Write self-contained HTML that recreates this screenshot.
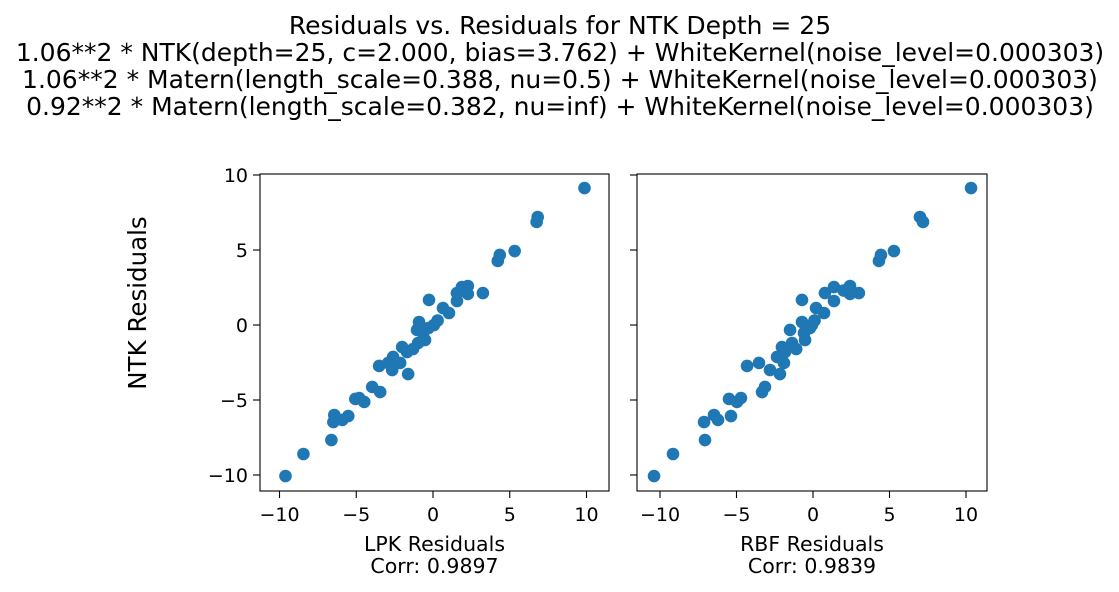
<!DOCTYPE html>
<html><head><meta charset="utf-8"><style>
body{margin:0;background:#fff;}
svg{display:block;font-family:"DejaVu Sans","Liberation Sans",sans-serif;}
</style></head><body>
<svg id="chart" width="1119" height="592" viewBox="0 0 1119 592">
<g font-size="25" text-anchor="middle" fill="#000">
<text x="560" y="34">Residuals vs. Residuals for NTK Depth = 25</text>
<text x="560" y="61">1.06**2 * NTK(depth=25, c=2.000, bias=3.762) + WhiteKernel(noise_level=0.000303)</text>
<text x="560" y="88">1.06**2 * Matern(length_scale=0.388, nu=0.5) + WhiteKernel(noise_level=0.000303)</text>
<text x="560" y="115">0.92**2 * Matern(length_scale=0.382, nu=inf) + WhiteKernel(noise_level=0.000303)</text>
</g>
<text x="0" y="0" font-size="24.5" text-anchor="middle" transform="translate(146,303) rotate(-90)">NTK Residuals</text>
<g id="plots"></g>
</svg>
<script>
const ntk = [9.13,7.2,6.87,4.27,4.67,4.93,2.13,2.53,1.6,2.6,2.07,2.13,1.67,1.13,0.8,0.2,0,-0.33,-0.53,-1.0,-1.2,-1.47,-1.8,-2.13,-2.53,-2.73,-2.53,-3.0,-3.27,-4.13,-4.47,-4.93,-4.87,-5.13,-6.0,-6.47,-6.33,-6.07,-7.67,-8.6,-10.07,0.3,-0.2,2.3,-1.6];
const lpk = [9.87,6.82,6.75,4.22,4.35,5.32,1.56,1.88,1.56,2.27,2.27,3.25,-0.26,0.65,1.04,-0.91,0.06,-1.04,-0.65,-0.52,-0.97,-2.01,-1.69,-2.6,-2.14,-3.51,-2.92,-2.66,-1.62,-3.96,-3.44,-5.06,-4.81,-4.48,-6.43,-6.49,-5.91,-5.52,-6.62,-8.44,-9.61,0.3,-0.3,2.0,-1.3];
const rbf = [10.33,6.99,7.19,4.31,4.44,5.29,0.78,1.37,1.37,2.42,2.42,3.0,-0.72,0.2,0.72,-0.72,-0.07,-1.5,-0.59,-0.52,-1.37,-2.03,-1.83,-2.35,-1.9,-4.31,-3.53,-2.81,-2.16,-3.14,-3.33,-5.49,-4.71,-4.97,-6.47,-7.12,-6.21,-5.36,-7.06,-9.15,-10.39,0.1,-0.2,2.0,-1.1];
const xTicks = [-10,-5,0,5,10];
const yTicks = [-10,-5,0,5,10];
const corrLabels = ["Corr: 0.9897","Corr: 0.9839"];
const xNames = ["LPK Residuals","RBF Residuals"];

const NS="http://www.w3.org/2000/svg";
const plotsRoot=document.getElementById('plots');
function mk(tag,attrs,parent){const e=document.createElementNS(NS,tag);for(const k in attrs)e.setAttribute(k,attrs[k]);parent.appendChild(e);return e;}
const axTop=174,axBot=491;
const yScale=v=>325-v*15;
const panels=[{x0:260,x1:609,zero:433,k:15.35,xs:lpk,name:'lpk'},{x0:637,x1:987,zero:813,k:15.3,xs:rbf,name:'rbf'}];
panels.forEach((p,pi)=>{
  const g=mk('g',{},plotsRoot);
  
  
  const xScale=v=>p.zero+v*p.k;
  for(let i=0;i<ntk.length;i++){
    const c=mk('circle',{cx:xScale(p.xs[i]),cy:yScale(ntk[i]),r:6.3,fill:'#1f77b4'},g);
    
    
  }
  const fr=mk('rect',{x:p.x0,y:axTop,width:p.x1-p.x0,height:axBot-axTop,fill:'none',stroke:'#000','stroke-width':1.1},g);
  
  
  xTicks.forEach(t=>{
    const x=xScale(t);
    mk('line',{x1:x,x2:x,y1:axBot,y2:axBot+7,stroke:'#000','stroke-width':1.1},g);
    const tx=mk('text',{x:x,y:axBot+30,'font-size':19,'text-anchor':'middle'},g);
    tx.textContent=(t<0?'\u2212'+(-t):String(t));
    
    
  });
  yTicks.forEach(t=>{
    const y=yScale(t);
    mk('line',{x1:p.x0-7,x2:p.x0,y1:y,y2:y,stroke:'#000','stroke-width':1.1},g);
    if(pi===0){
      const ty=mk('text',{x:p.x0-12,y:y+7,'font-size':19,'text-anchor':'end'},g);
      ty.textContent=(t<0?'\u2212'+(-t):String(t));
      
      
    }
  });
  const cx=(p.x0+p.x1)/2;
  const l1=mk('text',{x:cx,y:551,'font-size':20.5,'text-anchor':'middle'},g);
  l1.textContent=xNames[pi];
  
  
  const l2=mk('text',{x:cx,y:573,'font-size':20.5,'text-anchor':'middle'},g);
  l2.textContent=corrLabels[pi];
  
  
});
</script>
</body></html>
